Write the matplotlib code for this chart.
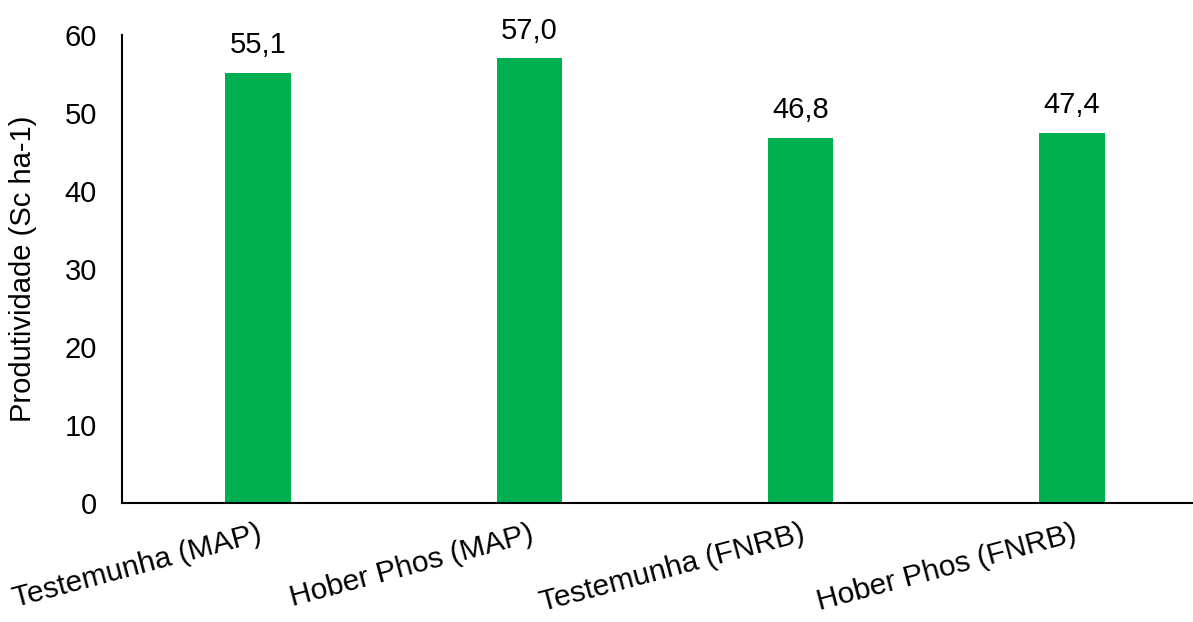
import matplotlib
matplotlib.use("Agg")
import matplotlib.pyplot as plt

categories = ["Testemunha (MAP)", "Hober Phos (MAP)", "Testemunha (FNRB)", "Hober Phos (FNRB)"]
values = [55.1, 57.0, 46.8, 47.4]
value_labels = ["55,1", "57,0", "46,8", "47,4"]
yticks = [0, 10, 20, 30, 40, 50, 60]

plt.rcParams['font.family'] = ['Liberation Sans', 'DejaVu Sans']
FS = 21

fig = plt.figure(figsize=(11.93, 6.22), dpi=100)
ax = fig.add_axes([122/1193, 1 - 503/622, 1 - 122/1193, 468/622])

x = list(range(len(categories)))
ax.bar(x, values, width=0.24, color="#00B050")
for xi, v, lab in zip(x, values, value_labels):
    ax.annotate(lab, (xi, v), xytext=(0, 10), textcoords="offset points",
                ha="center", va="bottom", fontsize=FS)

ax.set_xlim(-0.501, 3.446)
ax.set_ylim(0, 60)
ax.set_yticks(yticks)
ax.set_yticklabels([str(t) for t in yticks], fontsize=FS)
ax.set_xticks(x)
ax.set_xticklabels(categories, rotation=15, ha="right", rotation_mode="anchor", fontsize=21.5)
ax.tick_params(axis="both", length=0)
ax.tick_params(axis="y", pad=18)
ax.tick_params(axis="x", pad=12)
for s in ["top", "right"]:
    ax.spines[s].set_visible(False)
for s in ["left", "bottom"]:
    ax.spines[s].set_linewidth(1.5)
    ax.spines[s].set_color("black")
ax.set_ylabel("Produtividade (Sc ha-1)", fontsize=FS, va="center")
ax.yaxis.set_label_coords(-(122 - 23) / 1071, 0.5)

fig.savefig("out.png", dpi=100)
